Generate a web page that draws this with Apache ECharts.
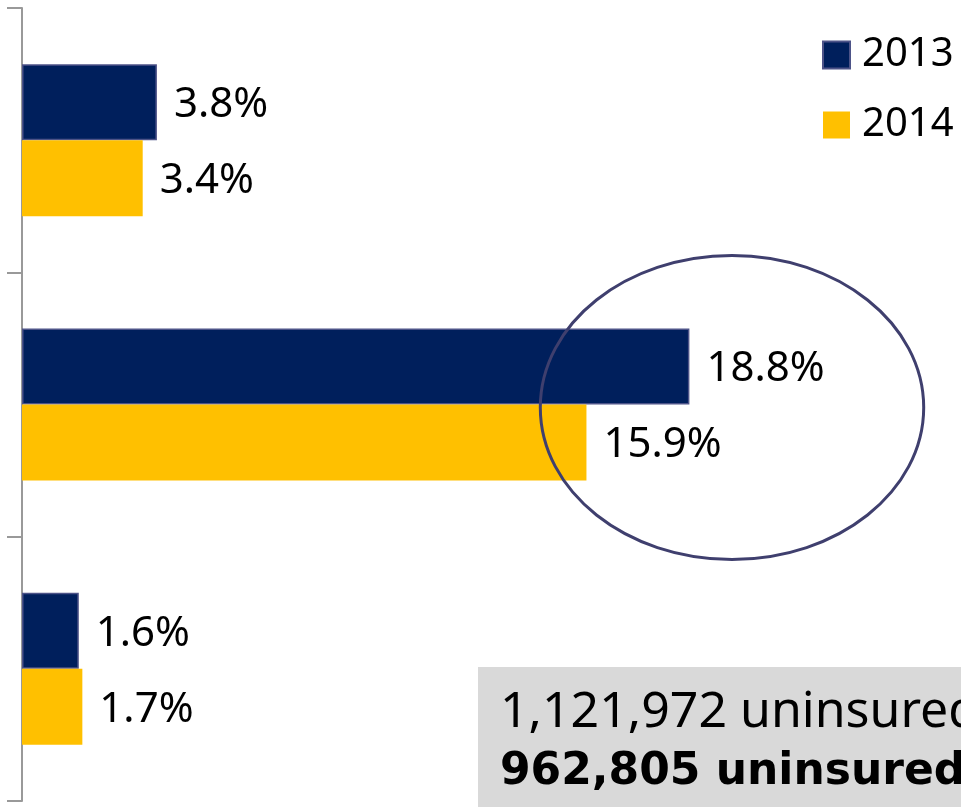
<!DOCTYPE html>
<html>
<head>
<meta charset="utf-8">
<script src="https://cdn.jsdelivr.net/npm/echarts@6/dist/echarts.min.js"></script>
<style>
  html, body { margin: 0; padding: 0; background: #fff; }
  #chart { width: 961px; height: 807px; }
</style>
</head>
<body>
<div id="chart"></div>
<script>
// categories (labels are not visible in the picture)
const categories = ['Group 1', 'Group 2', 'Group 3']
const seriesNames = ['2013', '2014']
const values2013 = [3.8, 18.8, 1.6]
const values2014 = [3.4, 15.9, 1.7]
const boxLines = ['1,121,972 uninsured', '962,805 uninsured']

const font = 'Noto Sans'
const chart = echarts.init(document.getElementById('chart'))

const labelStyle = {
  show: true,
  position: 'right',
  distance: 17,
  offset: [0, 3],
  color: '#000',
  fontSize: 42,
  fontFamily: font,
  formatter: p => p.value.toFixed(1) + '%',
}

const option = {
  animation: false,
  grid: { left: 22, right: 16, top: 8, bottom: 6 },
  legend: {
    orient: 'vertical',
    left: 817,
    top: 30,
    itemWidth: 27,
    itemHeight: 27,
    itemGap: 30,
    icon: 'rect',
    textStyle: { color: '#000', fontSize: 40, fontFamily: font, padding: [0, 0, 0, 7] },
    data: seriesNames,
  },
  xAxis: { type: 'value', min: 0, max: 26, show: false },
  yAxis: {
    type: 'category',
    inverse: true,
    data: categories,
    axisLine: { lineStyle: { color: '#999', width: 2 } },
    axisTick: { show: true, length: 15, lineStyle: { color: '#999', width: 2 } },
    axisLabel: { show: false },
    splitLine: { show: false },
  },
  series: [
    {
      name: seriesNames[0],
      type: 'bar',
      barWidth: 76,
      barGap: '0%',
      data: values2013,
      itemStyle: { color: '#001f5c', borderColor: '#4d5388', borderWidth: 1.5 },
      label: labelStyle,
    },
    {
      name: seriesNames[1],
      type: 'bar',
      barWidth: 76,
      data: values2014,
      itemStyle: { color: '#ffc000' },
      label: labelStyle,
    },
  ],
}

chart.setOption(option)

// ellipse around the middle group, placed through the axes
const c = chart.convertToPixel({ gridIndex: 0 }, [20, categories[1]])
const edge = chart.convertToPixel({ gridIndex: 0 }, [25.4, categories[1]])
chart.setOption({
  graphic: [
    {
      type: 'ellipse',
      shape: { cx: c[0], cy: c[1] + 3, rx: edge[0] - c[0], ry: 152 },
      style: { fill: 'none', stroke: '#3f3f6e', lineWidth: 3 },
      z: 10,
    },
    {
      type: 'group',
      left: 478,
      top: 667,
      children: [
        { type: 'rect', shape: { x: 0, y: 0, width: 500, height: 150 }, style: { fill: '#d9d9d9' } },
        {
          type: 'text', x: 22, y: 21,
          style: { text: boxLines[0], font: '50px "Noto Sans"', fill: '#000' },
        },
        {
          type: 'text', x: 22, y: 84,
          style: { text: boxLines[1], font: 'bold 44px "DejaVu Sans"', fill: '#000' },
        },
      ],
    },
  ],
})
</script>
</body>
</html>
